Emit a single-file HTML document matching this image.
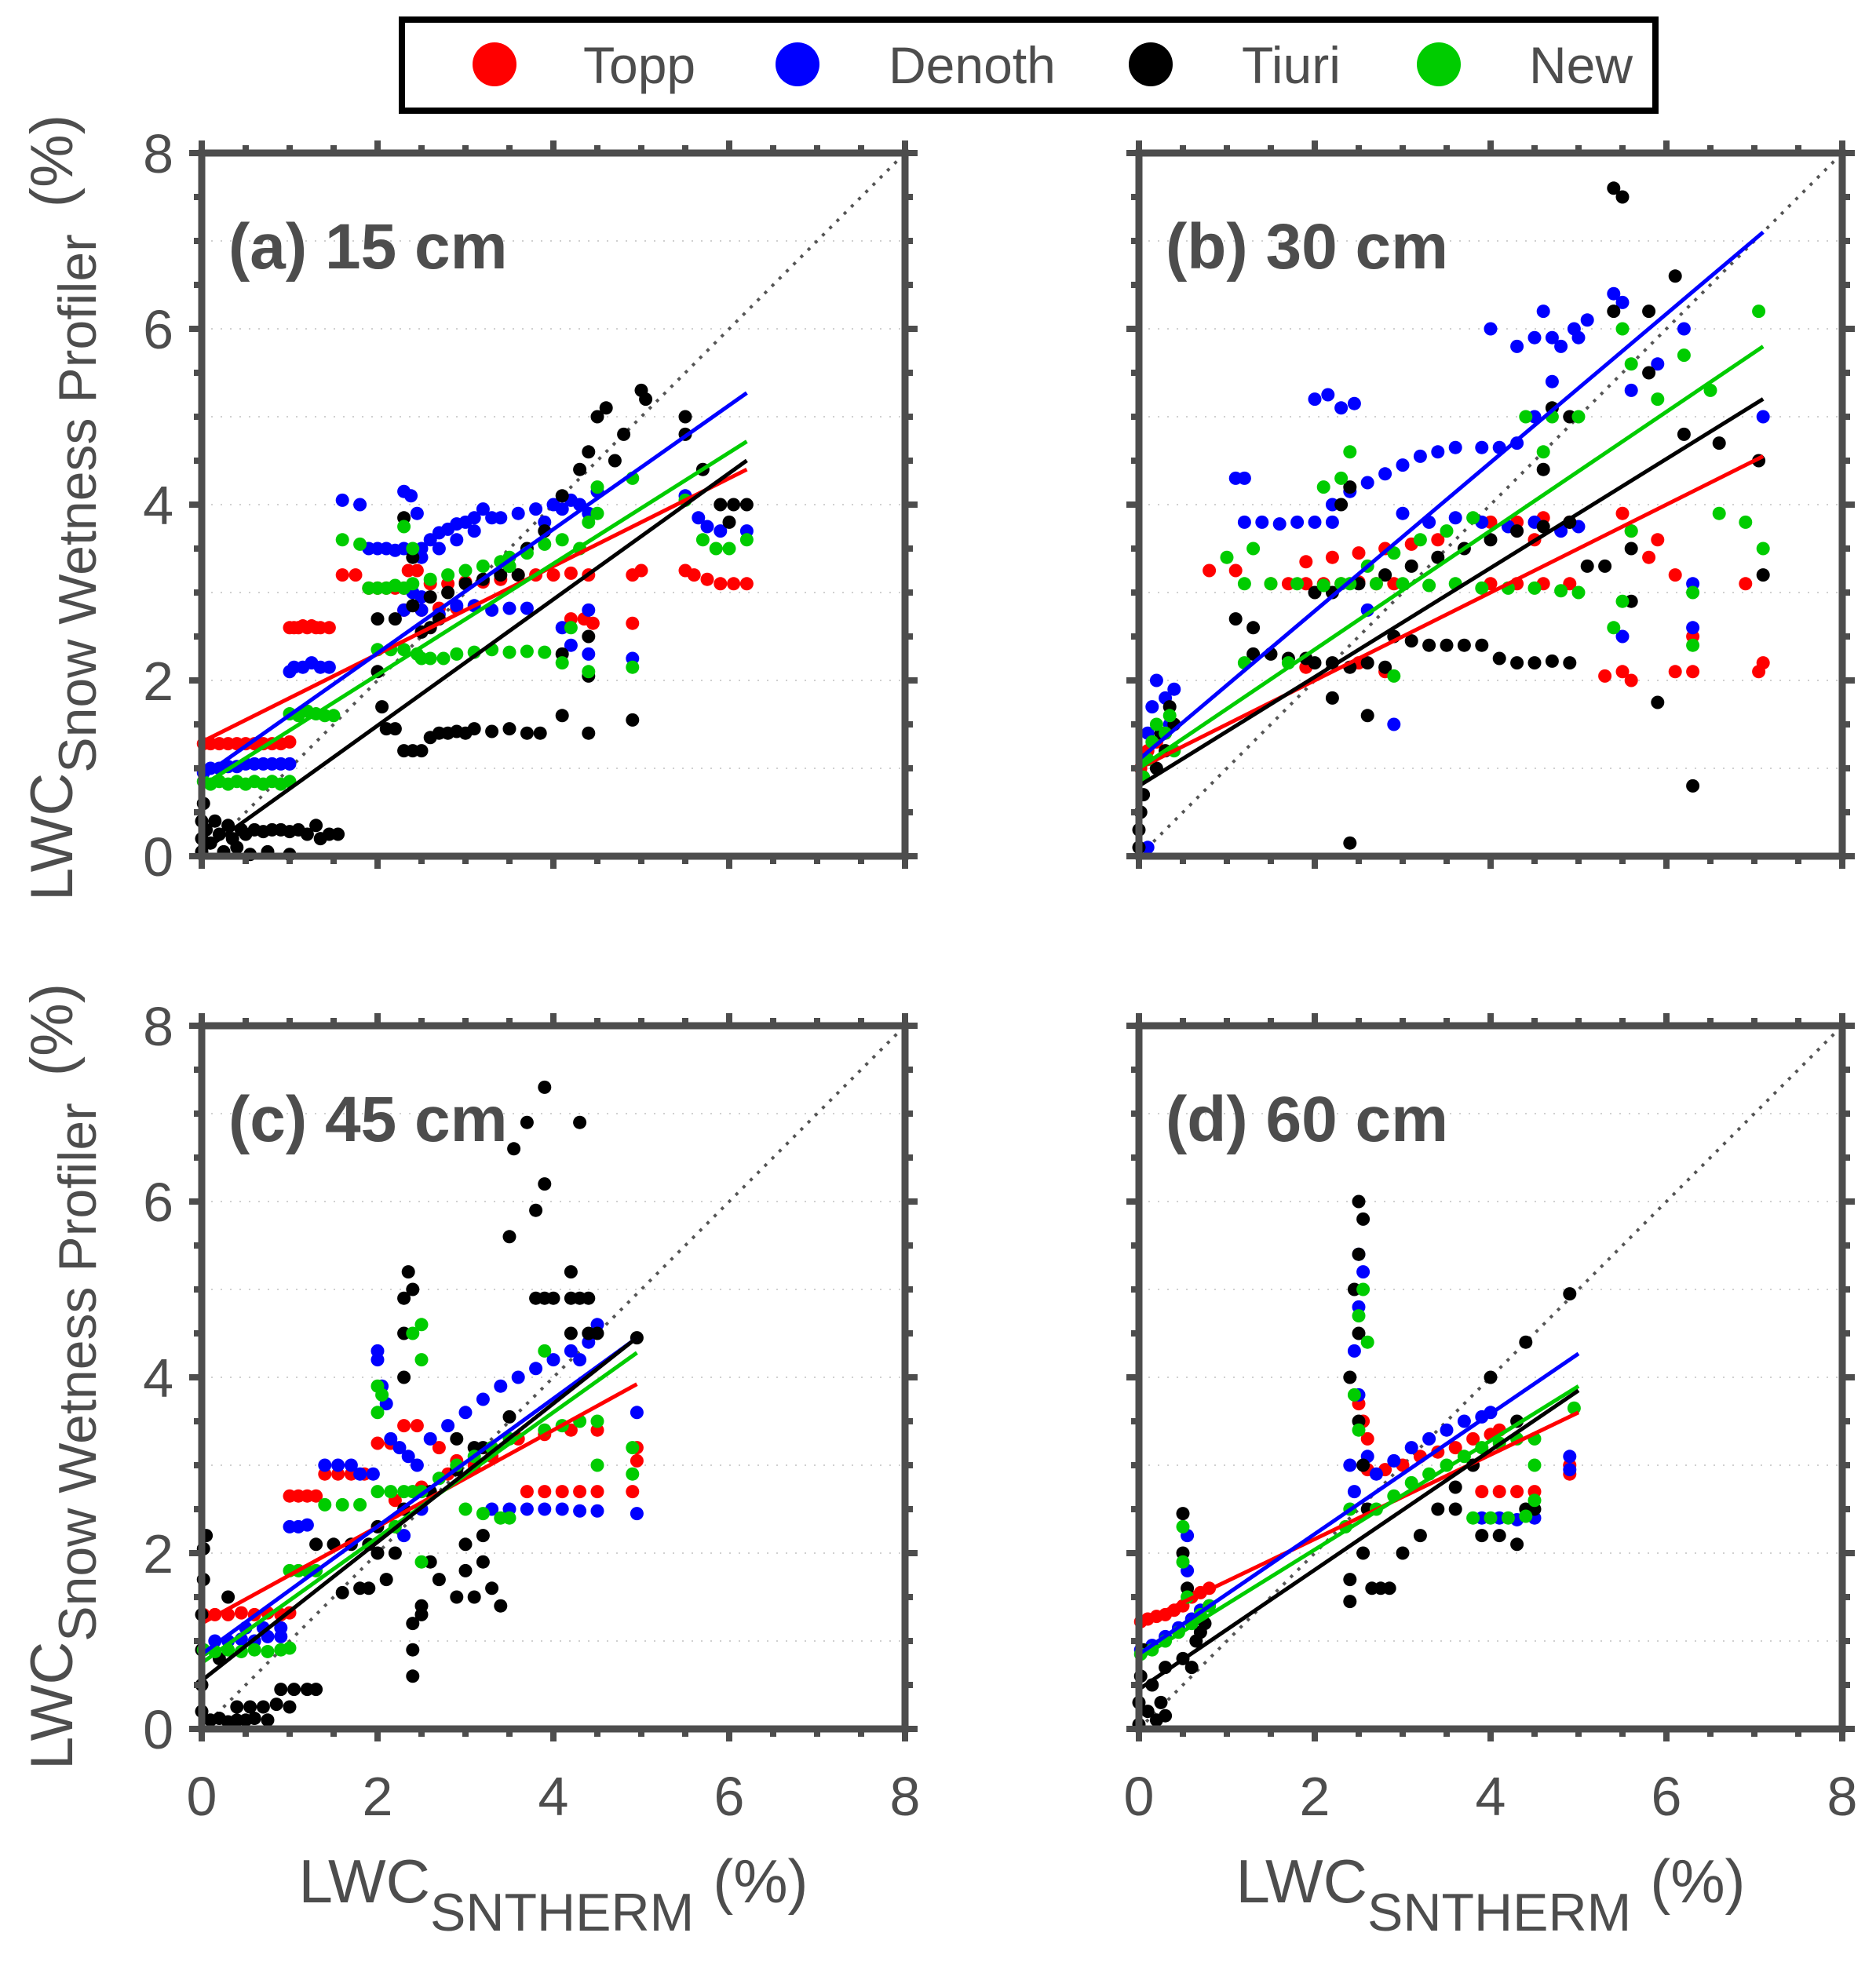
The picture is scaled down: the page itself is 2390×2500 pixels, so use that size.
<!DOCTYPE html>
<html><head><meta charset="utf-8"><style>
html,body{margin:0;padding:0;background:#fff}
svg{display:block}
text{font-family:"Liberation Sans",sans-serif}
</style></head><body>
<svg id="chart" xmlns="http://www.w3.org/2000/svg" width="2390" height="2500" viewBox="0 0 2390 2500">
<g>
<rect x="512" y="25" width="1597" height="116" fill="#fff" stroke="#000" stroke-width="8"/>
<circle cx="630" cy="82" r="28" fill="#ff0000"/>
<text x="743" y="106" font-size="66" fill="#4d4d4d">Topp</text>
<circle cx="1016" cy="82" r="28" fill="#0000ff"/>
<text x="1132" y="106" font-size="66" fill="#4d4d4d">Denoth</text>
<circle cx="1466" cy="82" r="28" fill="#000"/>
<text x="1582" y="106" font-size="66" fill="#4d4d4d">Tiuri</text>
<circle cx="1833" cy="82" r="28" fill="#00cc00"/>
<text x="1948" y="106" font-size="66" fill="#4d4d4d">New</text>
</g>
<g transform="translate(92,647) rotate(-90)">
<text text-anchor="middle" font-size="76" fill="#4d4d4d">LWC<tspan font-size="68" dy="30">Snow Wetness Profiler</tspan><tspan dy="-30" dx="34">(%)</tspan></text>
</g>
<g transform="translate(92,1754) rotate(-90)">
<text text-anchor="middle" font-size="76" fill="#4d4d4d">LWC<tspan font-size="68" dy="30">Snow Wetness Profiler</tspan><tspan dy="-30" dx="34">(%)</tspan></text>
</g>
<text x="705" y="2424" text-anchor="middle" font-size="78" fill="#4d4d4d">LWC<tspan font-size="68" dy="36">SNTHERM</tspan><tspan dy="-36" dx="24">(%)</tspan></text>
<text x="1899" y="2424" text-anchor="middle" font-size="78" fill="#4d4d4d">LWC<tspan font-size="68" dy="36">SNTHERM</tspan><tspan dy="-36" dx="24">(%)</tspan></text>
</svg>
<script>
const COLORS = {topp:'#ff0000', denoth:'#0000ff', tiuri:'#000000', neu:'#00cc00'};
const xTicks = [0,2,4,6,8];
const yTicks = [0,2,4,6,8];
const panelTitles = ['(a) 15 cm','(b) 30 cm','(c) 45 cm','(d) 60 cm'];

// ---- panel a data ----
const aTopp = [[0.02,1.28],[0.1,1.28],[0.2,1.28],[0.3,1.28],[0.4,1.28],[0.5,1.28],[0.6,1.28],[0.7,1.28],[0.8,1.28],[0.9,1.28],[1.0,1.3],[1.0,2.6],[1.05,2.6],[1.1,2.6],[1.15,2.62],[1.2,2.6],[1.25,2.62],[1.3,2.6],[1.35,2.6],[1.45,2.6],[1.6,3.2],[1.75,3.2],[1.9,3.05],[2.0,3.05],[2.1,3.05],[2.2,3.05],[2.3,3.05],[2.35,3.25],[2.45,3.25],[2.3,2.8],[2.5,2.8],[2.7,2.82],[2.9,2.82],[2.6,3.1],[2.8,3.1],[3.0,3.12],[3.2,3.12],[3.4,3.15],[3.6,3.2],[3.8,3.2],[4.0,3.2],[4.2,3.22],[4.4,3.2],[4.2,2.7],[4.35,2.7],[4.45,2.65],[4.9,2.65],[4.9,3.2],[5.0,3.25],[5.5,3.25],[5.6,3.2],[5.75,3.15],[5.9,3.1],[6.05,3.1],[6.2,3.1]];
const aDenoth = [[0.02,0.95],[0.1,1.0],[0.2,1.0],[0.3,1.02],[0.4,1.02],[0.5,1.05],[0.6,1.05],[0.7,1.05],[0.8,1.05],[0.9,1.05],[1.0,1.05],[1.0,2.1],[1.05,2.15],[1.15,2.15],[1.25,2.2],[1.35,2.15],[1.45,2.15],[1.6,4.05],[1.8,4.0],[1.9,3.5],[2.0,3.5],[2.1,3.5],[2.2,3.48],[2.3,3.5],[2.3,4.15],[2.38,4.1],[2.45,3.9],[2.5,3.5],[2.6,3.6],[2.7,3.68],[2.8,3.72],[2.9,3.78],[3.0,3.8],[3.1,3.85],[3.2,3.95],[3.3,3.85],[3.4,3.85],[2.5,3.4],[2.7,3.5],[2.9,3.6],[3.1,3.7],[2.4,3.0],[2.5,2.95],[2.3,2.8],[2.5,2.8],[2.7,2.75],[2.9,2.85],[3.1,2.85],[3.3,2.8],[3.5,2.82],[3.7,2.82],[3.6,3.9],[3.8,3.95],[3.9,3.8],[4.0,4.0],[4.1,3.95],[4.2,4.05],[4.3,4.0],[4.4,3.9],[4.5,4.15],[4.1,2.6],[4.2,2.4],[4.4,2.3],[4.4,2.8],[4.9,2.25],[5.5,4.1],[5.65,3.85],[5.75,3.75],[5.9,3.7],[6.2,3.7]];
const aTiuri = [[0.0,0.05],[0.0,0.2],[0.0,0.4],[0.02,0.6],[0.05,0.3],[0.1,0.15],[0.15,0.4],[0.2,0.25],[0.25,0.05],[0.3,0.35],[0.35,0.2],[0.4,0.1],[0.45,0.3],[0.5,0.25],[0.55,0.02],[0.6,0.3],[0.7,0.28],[0.75,0.05],[0.8,0.3],[0.9,0.3],[1.0,0.02],[1.0,0.28],[1.1,0.3],[1.2,0.25],[1.3,0.35],[1.35,0.2],[1.45,0.25],[1.55,0.25],[2.0,2.1],[2.05,1.7],[2.1,1.45],[2.2,1.45],[2.3,1.2],[2.4,1.2],[2.5,1.2],[2.6,1.35],[2.7,1.4],[2.8,1.4],[2.9,1.42],[3.0,1.4],[3.1,1.45],[3.3,1.42],[3.5,1.45],[3.7,1.4],[3.85,1.4],[4.1,1.6],[4.4,1.4],[4.9,1.55],[2.0,2.7],[2.2,2.7],[2.4,2.85],[2.6,2.95],[2.8,3.0],[3.0,3.1],[3.2,3.15],[3.4,3.2],[3.6,3.2],[2.3,3.85],[2.4,3.4],[2.5,2.55],[2.6,2.6],[2.7,2.7],[3.5,3.3],[3.7,3.5],[3.9,3.7],[4.1,4.1],[4.3,4.4],[4.4,4.6],[4.5,5.0],[4.6,5.1],[4.7,4.5],[4.8,4.8],[5.0,5.3],[5.05,5.2],[5.5,5.0],[5.5,4.8],[5.7,4.4],[5.9,4.0],[6.0,3.8],[6.05,4.0],[6.2,4.0],[4.1,2.3],[4.4,2.05],[4.4,2.5]];
const aNew = [[0.02,0.85],[0.1,0.82],[0.2,0.85],[0.3,0.82],[0.4,0.85],[0.5,0.82],[0.6,0.85],[0.7,0.82],[0.8,0.85],[0.9,0.82],[1.0,0.85],[1.0,1.62],[1.1,1.6],[1.2,1.65],[1.3,1.62],[1.4,1.6],[1.5,1.6],[1.6,3.6],[1.8,3.55],[1.9,3.05],[2.0,3.05],[2.1,3.05],[2.2,3.08],[2.3,3.05],[2.4,3.1],[2.6,3.15],[2.8,3.2],[3.0,3.25],[3.2,3.3],[3.4,3.35],[3.5,3.4],[2.3,3.75],[2.4,3.5],[2.0,2.35],[2.15,2.35],[2.3,2.35],[2.45,2.3],[2.5,2.25],[2.6,2.25],[2.75,2.25],[2.9,2.3],[3.1,2.32],[3.3,2.35],[3.5,2.32],[3.7,2.33],[3.9,2.32],[3.5,3.3],[3.7,3.45],[3.9,3.55],[4.1,3.6],[4.3,3.5],[4.4,3.8],[4.5,3.9],[4.5,4.2],[4.1,2.2],[4.2,2.6],[4.4,2.1],[4.9,2.15],[4.9,4.3],[5.5,4.05],[5.7,3.6],[5.85,3.5],[6.0,3.5],[6.2,3.6]];
const aFit = {topp:[1.3,0.5], denoth:[0.9,0.705], tiuri:[0.05,0.718], neu:[0.8,0.632]};
const aXmax = 6.2;

// ---- panel b data ----
const bTopp = [[0.02,1.0],[0.1,1.2],[0.2,1.3],[0.3,1.4],[0.4,1.5],[0.8,3.25],[1.1,3.25],[1.5,3.1],[1.7,3.1],[1.9,3.1],[2.1,3.1],[2.3,3.1],[2.5,3.12],[2.7,3.1],[2.9,3.1],[1.9,3.35],[2.2,3.4],[2.5,3.45],[2.8,3.5],[3.1,3.55],[3.4,3.6],[4.0,3.8],[4.3,3.8],[4.6,3.85],[4.9,3.8],[4.0,3.1],[4.3,3.1],[4.6,3.1],[4.9,3.1],[4.5,3.6],[1.9,2.15],[2.5,2.2],[2.8,2.1],[5.3,2.05],[5.5,2.1],[5.6,2.0],[5.5,3.9],[5.6,3.7],[5.8,3.4],[5.9,3.6],[6.1,3.2],[6.1,2.1],[6.3,2.1],[6.3,2.5],[6.9,3.1],[7.05,2.1],[7.1,2.2]];
const bDenoth = [[0.1,0.1],[0.1,1.4],[0.15,1.7],[0.2,2.0],[0.3,1.8],[0.35,1.5],[0.4,1.9],[1.1,4.3],[1.2,4.3],[1.2,3.8],[1.4,3.8],[1.6,3.78],[1.8,3.8],[2.0,3.8],[2.2,3.8],[2.0,5.2],[2.15,5.25],[2.3,5.1],[2.45,5.15],[2.2,4.0],[2.4,4.15],[2.6,4.25],[2.8,4.35],[3.0,4.45],[3.2,4.55],[3.4,4.6],[3.6,4.65],[3.9,4.65],[4.1,4.65],[4.3,4.7],[4.5,5.0],[4.7,5.4],[4.8,5.8],[4.95,6.0],[5.1,6.1],[4.5,5.9],[4.7,5.9],[5.0,5.9],[3.0,3.9],[3.3,3.8],[3.6,3.85],[3.9,3.8],[4.2,3.75],[4.5,3.8],[4.8,3.7],[5.0,3.75],[4.0,6.0],[4.3,5.8],[4.6,6.2],[5.4,6.4],[5.5,6.3],[5.5,2.5],[5.6,5.3],[5.9,5.6],[6.2,6.0],[6.3,2.6],[6.3,3.1],[7.1,5.0],[2.9,1.5],[2.6,2.8]];
const bTiuri = [[0.0,0.1],[0.0,0.3],[0.02,0.5],[0.05,0.7],[0.05,0.9],[0.08,1.1],[0.2,1.0],[0.25,1.4],[0.3,1.2],[0.35,1.7],[0.4,1.5],[1.1,2.7],[1.3,2.6],[1.3,2.3],[1.5,2.3],[1.7,2.25],[1.9,2.25],[2.0,2.2],[2.2,2.2],[2.4,2.15],[2.6,2.2],[2.8,2.15],[2.9,2.5],[3.1,2.45],[3.3,2.4],[3.5,2.4],[3.7,2.4],[3.9,2.4],[4.1,2.25],[4.3,2.2],[4.5,2.2],[4.7,2.22],[4.9,2.2],[2.2,3.0],[2.5,3.1],[2.8,3.2],[3.1,3.3],[3.4,3.4],[3.7,3.5],[4.0,3.6],[4.3,3.7],[4.6,3.75],[4.9,3.8],[2.3,4.0],[2.4,4.2],[2.4,0.15],[2.6,1.6],[2.2,1.8],[2.0,3.0],[4.6,4.4],[4.7,5.1],[4.9,5.0],[5.1,3.3],[5.3,3.3],[5.4,6.2],[5.4,7.6],[5.5,7.5],[5.6,2.9],[5.6,3.5],[5.8,5.5],[5.8,6.2],[5.9,1.75],[6.1,6.6],[6.2,4.8],[6.3,0.8],[6.6,4.7],[7.05,4.5],[7.1,3.2]];
const bNew = [[0.05,0.9],[0.1,1.1],[0.15,1.3],[0.2,1.5],[0.3,1.4],[0.35,1.6],[0.4,1.2],[1.0,3.4],[1.3,3.5],[1.2,3.1],[1.5,3.1],[1.8,3.1],[2.1,3.08],[2.4,3.1],[2.7,3.1],[3.0,3.1],[3.3,3.08],[3.6,3.1],[3.9,3.05],[4.2,3.05],[4.5,3.05],[4.8,3.02],[5.0,3.0],[2.3,3.1],[2.6,3.3],[2.9,3.45],[3.2,3.6],[3.5,3.7],[3.8,3.85],[2.1,4.2],[2.3,4.3],[2.4,4.6],[4.4,5.0],[4.6,4.6],[4.7,5.0],[5.0,5.0],[5.4,2.6],[5.5,2.9],[5.5,6.0],[5.6,5.6],[5.6,3.7],[5.9,5.2],[6.2,5.7],[6.3,3.0],[6.3,2.4],[6.5,5.3],[6.6,3.9],[6.9,3.8],[7.05,6.2],[7.1,3.5],[2.9,2.05],[1.2,2.2],[1.7,2.2]];
const bFit = {topp:[1.0,0.5], denoth:[1.1,0.845], tiuri:[0.8,0.62], neu:[1.0,0.676]};
const bXmax = 7.1;

// ---- panel c data ----
const cTopp = [[0.02,1.3],[0.15,1.3],[0.3,1.3],[0.45,1.32],[0.6,1.3],[0.75,1.32],[0.9,1.3],[1.0,1.32],[1.0,2.65],[1.1,2.65],[1.2,2.65],[1.3,2.65],[1.4,2.9],[1.55,2.9],[1.7,2.9],[1.85,2.9],[2.0,3.25],[2.15,3.25],[2.3,3.45],[2.45,3.45],[2.2,2.6],[2.5,2.75],[2.8,2.9],[3.1,3.0],[3.3,3.1],[2.7,3.2],[2.9,3.05],[3.3,3.2],[3.6,3.3],[3.9,3.35],[4.2,3.4],[4.5,3.4],[3.7,2.7],[3.9,2.7],[4.1,2.7],[4.3,2.7],[4.5,2.7],[4.9,2.7],[4.95,3.05],[4.95,3.2]];
const cDenoth = [[0.02,0.9],[0.15,1.0],[0.3,1.0],[0.45,1.02],[0.6,1.0],[0.75,1.05],[0.9,1.05],[0.5,1.15],[0.7,1.15],[0.9,1.15],[1.0,2.3],[1.1,2.3],[1.2,2.32],[1.4,3.0],[1.55,3.0],[1.7,3.0],[1.8,2.9],[1.95,2.9],[2.0,4.3],[2.0,4.2],[2.05,3.9],[2.1,3.7],[2.15,3.3],[2.25,3.2],[2.35,3.1],[2.45,3.0],[2.3,2.2],[2.5,2.5],[2.6,3.3],[2.8,3.45],[3.0,3.6],[3.2,3.75],[3.4,3.9],[3.6,4.0],[3.8,4.1],[4.0,4.2],[4.2,4.3],[4.4,4.4],[4.3,4.2],[4.5,4.6],[3.3,2.5],[3.5,2.5],[3.7,2.5],[3.9,2.5],[4.1,2.5],[4.3,2.48],[4.5,2.48],[4.95,3.6],[4.95,2.45]];
const cTiuri = [[0.0,0.2],[0.0,0.5],[0.0,0.9],[0.0,1.3],[0.02,1.7],[0.02,2.05],[0.05,2.2],[0.1,0.1],[0.2,0.12],[0.3,0.08],[0.4,0.1],[0.5,0.1],[0.6,0.12],[0.75,0.1],[0.4,0.25],[0.55,0.25],[0.7,0.25],[0.85,0.28],[1.0,0.25],[0.9,0.45],[1.05,0.45],[1.2,0.45],[1.3,0.45],[0.3,1.5],[0.2,0.8],[1.3,2.1],[1.5,2.1],[1.7,2.1],[1.9,2.1],[1.6,1.55],[1.8,1.6],[1.9,1.6],[2.0,2.0],[2.1,1.7],[2.2,2.0],[2.3,4.0],[2.3,4.5],[2.3,4.9],[2.35,5.2],[2.4,5.0],[2.4,0.6],[2.4,0.9],[2.4,1.2],[2.5,1.3],[2.5,1.4],[2.6,1.9],[2.7,1.7],[2.9,1.5],[3.0,1.8],[3.1,1.5],[3.2,1.9],[3.3,1.6],[3.4,1.4],[2.0,2.3],[2.3,2.5],[2.6,2.7],[2.9,2.95],[3.2,3.2],[3.5,3.55],[3.0,2.1],[3.2,2.2],[2.9,3.3],[3.1,3.2],[3.5,5.6],[3.55,6.6],[3.7,6.9],[3.8,5.9],[3.9,6.2],[3.9,7.3],[4.3,6.9],[4.2,5.2],[3.8,4.9],[3.9,4.9],[4.0,4.9],[4.2,4.9],[4.3,4.9],[4.4,4.9],[4.2,4.5],[4.4,4.5],[4.5,4.5],[4.95,4.45]];
const cNew = [[0.02,0.9],[0.15,0.88],[0.3,0.9],[0.45,0.88],[0.6,0.9],[0.75,0.88],[0.9,0.9],[1.0,0.92],[1.0,1.8],[1.1,1.8],[1.2,1.8],[1.3,1.8],[1.4,2.55],[1.6,2.55],[1.8,2.55],[2.0,3.6],[2.0,3.9],[2.05,3.8],[2.0,2.7],[2.15,2.7],[2.3,2.7],[2.4,2.7],[2.2,2.3],[2.5,1.9],[2.4,4.5],[2.5,4.6],[2.5,4.2],[2.5,2.7],[2.7,2.85],[2.9,3.0],[3.1,3.1],[3.3,3.2],[3.5,3.3],[3.0,2.5],[3.2,2.45],[3.4,2.4],[3.5,2.4],[3.9,3.4],[4.1,3.45],[4.3,3.5],[3.9,4.3],[4.5,3.0],[4.5,3.5],[4.9,3.2],[4.9,2.9]];
const cFit = {topp:[1.2,0.55], denoth:[0.85,0.727], tiuri:[0.55,0.788], neu:[0.75,0.713]};
const cXmax = 4.95;

// ---- panel d data ----
const dTopp = [[0.02,1.22],[0.1,1.25],[0.2,1.28],[0.3,1.3],[0.4,1.35],[0.5,1.4],[0.6,1.5],[0.7,1.55],[0.8,1.6],[2.5,3.7],[2.55,3.5],[2.6,3.3],[2.6,2.95],[2.8,2.95],[3.0,3.0],[3.2,3.1],[3.4,3.15],[3.6,3.2],[3.8,3.3],[4.0,3.35],[4.1,3.4],[3.9,2.7],[4.1,2.7],[4.3,2.7],[4.5,2.7],[4.9,2.9],[4.9,3.0]];
const dDenoth = [[0.02,0.9],[0.15,0.95],[0.3,1.05],[0.45,1.15],[0.55,2.2],[0.55,1.8],[0.6,1.25],[0.7,1.35],[0.8,1.4],[2.4,3.0],[2.45,2.7],[2.45,4.3],[2.5,3.8],[2.5,4.8],[2.5,5.4],[2.55,5.2],[2.6,3.1],[2.7,2.9],[2.9,3.05],[3.1,3.2],[3.3,3.3],[3.5,3.4],[3.7,3.5],[3.9,3.55],[4.0,3.6],[3.9,2.4],[4.1,2.4],[4.3,2.38],[4.5,2.4],[4.9,3.1],[4.9,2.95]];
const dTiuri = [[0.0,0.05],[0.0,0.3],[0.02,0.6],[0.05,0.9],[0.1,0.2],[0.15,0.5],[0.2,0.1],[0.25,0.3],[0.3,0.15],[0.3,0.7],[0.5,2.45],[0.5,2.0],[0.5,0.8],[0.55,1.6],[0.6,0.7],[0.65,1.0],[0.7,1.1],[0.75,1.2],[2.4,1.45],[2.4,1.7],[2.4,4.0],[2.45,5.0],[2.5,3.5],[2.5,4.5],[2.5,5.4],[2.5,6.0],[2.55,5.8],[2.55,3.0],[2.55,2.0],[2.6,2.5],[2.65,1.6],[2.75,1.6],[2.85,1.6],[3.0,2.0],[3.2,2.2],[3.4,2.5],[3.6,2.5],[3.6,2.75],[3.8,3.0],[3.9,2.2],[4.1,2.2],[4.3,2.1],[4.3,3.5],[4.4,2.5],[4.5,2.5],[4.0,4.0],[4.4,4.4],[4.9,4.95]];
const dNew = [[0.02,0.85],[0.15,0.9],[0.3,1.0],[0.45,1.1],[0.5,2.3],[0.5,1.9],[0.55,1.5],[0.6,1.2],[0.7,1.3],[0.8,1.4],[2.35,2.3],[2.4,2.5],[2.45,3.8],[2.5,3.4],[2.5,4.7],[2.55,5.0],[2.6,4.4],[2.7,2.5],[2.9,2.65],[3.1,2.8],[3.3,2.9],[3.5,3.0],[3.7,3.1],[3.9,3.2],[4.1,3.25],[4.3,3.3],[4.5,3.3],[3.8,2.4],[4.0,2.4],[4.2,2.4],[4.4,2.42],[4.5,3.0],[4.5,2.6],[4.95,3.65]];
const dFit = {topp:[1.2,0.48], denoth:[0.85,0.684], tiuri:[0.45,0.68], neu:[0.8,0.62]};
const dXmax = 5.0;

const NS = 'http://www.w3.org/2000/svg';
const svg = document.getElementById('chart');
const SIZE = 896;
function mk(tag, attrs, parent){
  const e = document.createElementNS(NS, tag);
  for (const k in attrs) e.setAttribute(k, attrs[k]);
  parent.appendChild(e);
  return e;
}
const panels = [
  {x0:257, y0:195, id:'a', series:{topp:aTopp, denoth:aDenoth, tiuri:aTiuri, neu:aNew}, fit:aFit, xmax:aXmax, showX:false, showY:true},
  {x0:1451, y0:195, id:'b', series:{topp:bTopp, denoth:bDenoth, tiuri:bTiuri, neu:bNew}, fit:bFit, xmax:bXmax, showX:false, showY:false},
  {x0:257, y0:1307, id:'c', series:{topp:cTopp, denoth:cDenoth, tiuri:cTiuri, neu:cNew}, fit:cFit, xmax:cXmax, showX:true, showY:true},
  {x0:1451, y0:1307, id:'d', series:{topp:dTopp, denoth:dDenoth, tiuri:dTiuri, neu:dNew}, fit:dFit, xmax:dXmax, showX:true, showY:false}
];
panels.forEach((p, pi) => {
  const sx = v => p.x0 + v / 8 * SIZE;
  const sy = v => p.y0 + SIZE - v / 8 * SIZE;
  const g = mk('g', {}, svg);
  
  
  for (let v = 1; v < 8; v++) {
    const gl = mk('line', {x1:sx(0), x2:sx(8), y1:sy(v), y2:sy(v), stroke:'#d0d0d0', 'stroke-width':2, 'stroke-dasharray':'2 10'}, g);
    
    
  }
  const dl = mk('line', {x1:sx(0), y1:sy(0), x2:sx(8), y2:sy(8), stroke:'#555', 'stroke-width':4, 'stroke-dasharray':'4 9'}, g);
  
  
  ['topp','denoth','tiuri','neu'].forEach(s => {
    const sg = mk('g', {fill:COLORS[s]}, g);
    
    
    p.series[s].forEach(pt => {
      const c = mk('circle', {cx:sx(pt[0]), cy:sy(pt[1]), r:8.5}, sg);
      
      
    });
  });
  ['topp','denoth','neu','tiuri'].forEach(s => {
    const f = p.fit[s];
    const l = mk('line', {x1:sx(0), y1:sy(f[0]), x2:sx(p.xmax), y2:sy(f[0] + f[1] * p.xmax), stroke:COLORS[s], 'stroke-width':5}, g);
    
    
  });
  const fr = mk('rect', {x:p.x0, y:p.y0, width:SIZE, height:SIZE, fill:'none', stroke:'#4d4d4d', 'stroke-width':9}, g);
  
  
  for (let k = 0; k <= 16; k++) {
    const v = k / 2;
    const len = (k % 4 === 0) ? 16 : 10;
    mk('line', {x1:sx(v), x2:sx(v), y1:p.y0 + SIZE, y2:p.y0 + SIZE + len, stroke:'#4d4d4d', 'stroke-width':8}, g);
    mk('line', {x1:sx(v), x2:sx(v), y1:p.y0, y2:p.y0 - len, stroke:'#4d4d4d', 'stroke-width':8}, g);
    mk('line', {y1:sy(v), y2:sy(v), x1:p.x0, x2:p.x0 - len, stroke:'#4d4d4d', 'stroke-width':8}, g);
    mk('line', {y1:sy(v), y2:sy(v), x1:p.x0 + SIZE, x2:p.x0 + SIZE + len, stroke:'#4d4d4d', 'stroke-width':8}, g);
  }
  if (p.showY) {
    yTicks.forEach(v => {
      const t = mk('text', {x:p.x0 - 36, y:sy(v) + 25, 'text-anchor':'end', 'font-size':70, fill:'#4d4d4d'}, g);
      
      
      t.textContent = v;
    });
  }
  if (p.showX) {
    xTicks.forEach(v => {
      const t = mk('text', {x:sx(v), y:p.y0 + SIZE + 110, 'text-anchor':'middle', 'font-size':70, fill:'#4d4d4d'}, g);
      
      
      t.textContent = v;
    });
  }
  const tt = mk('text', {x:p.x0 + 34, y:p.y0 + 147, 'font-size':82, 'font-weight':'bold', fill:'#4d4d4d'}, g);
  
  
  tt.textContent = panelTitles[pi];
});
</script>
</body></html>
